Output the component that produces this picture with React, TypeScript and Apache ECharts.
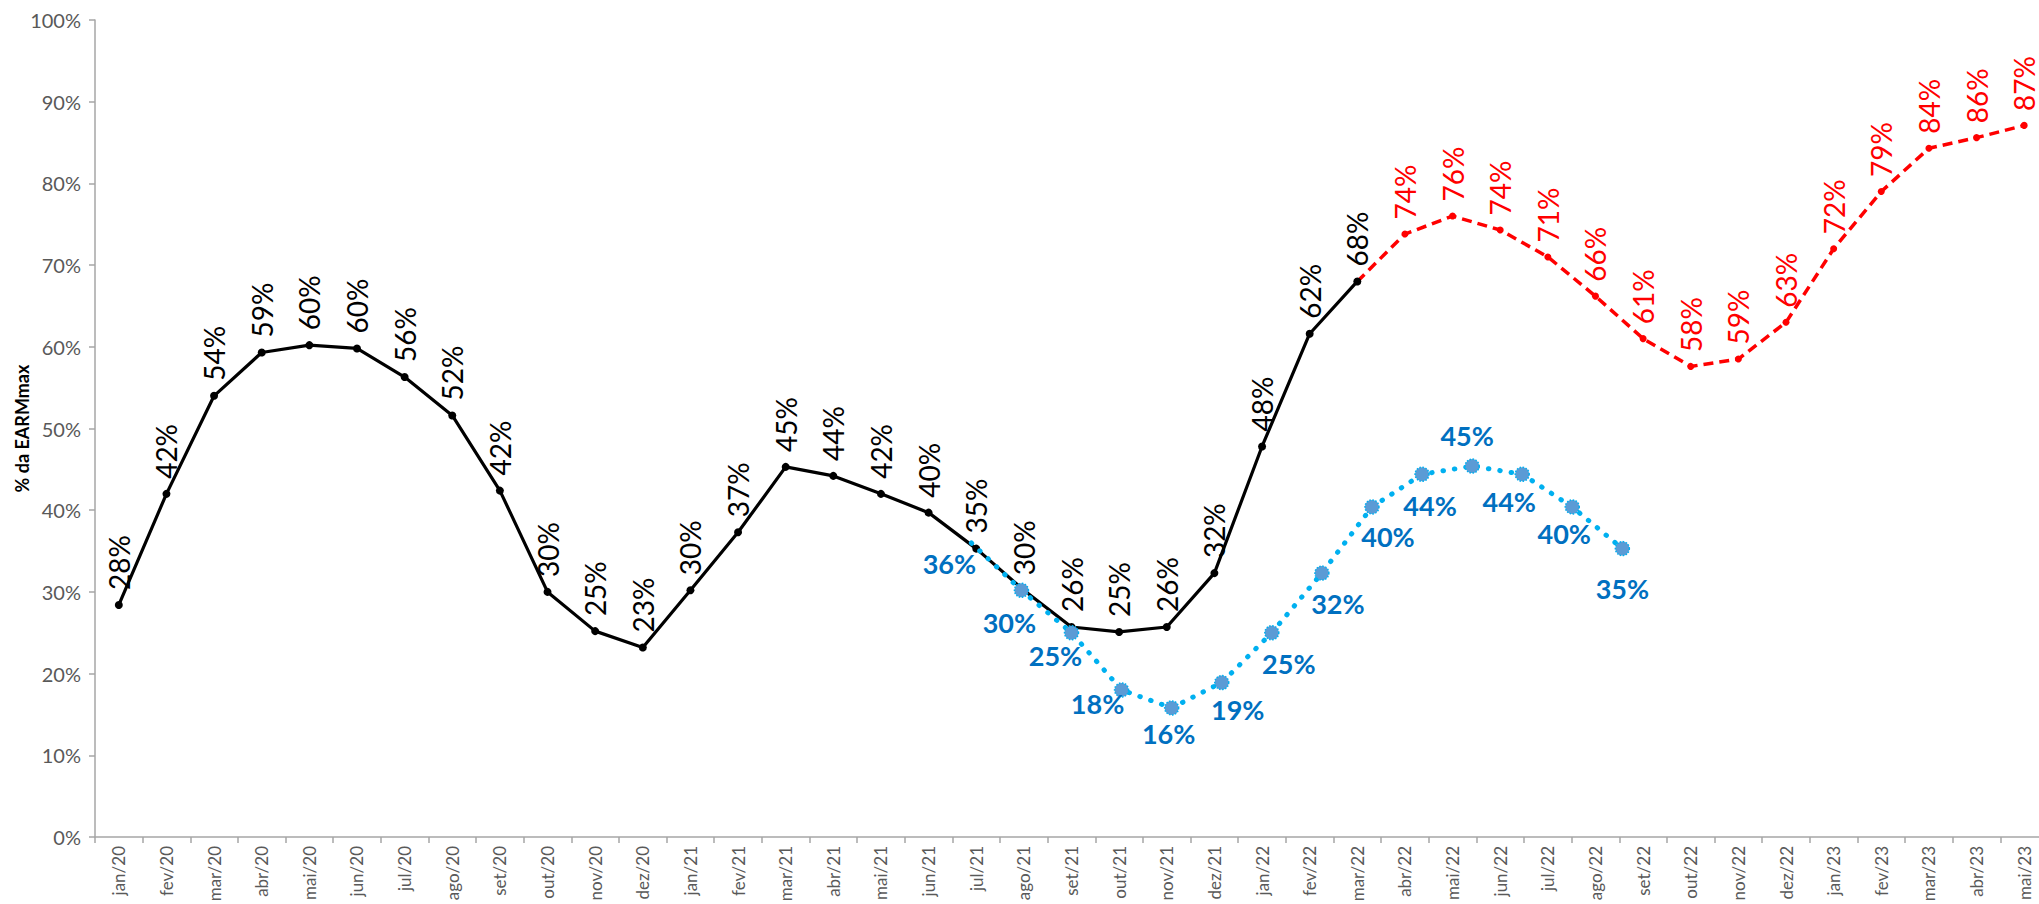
import React, { useEffect, useRef } from 'react';
import * as echarts from 'echarts';

const months = [
  'jan/20', 'fev/20', 'mar/20', 'abr/20', 'mai/20', 'jun/20', 'jul/20', 'ago/20', 'set/20', 'out/20', 'nov/20', 'dez/20',
  'jan/21', 'fev/21', 'mar/21', 'abr/21', 'mai/21', 'jun/21', 'jul/21', 'ago/21', 'set/21', 'out/21', 'nov/21', 'dez/21',
  'jan/22', 'fev/22', 'mar/22', 'abr/22', 'mai/22', 'jun/22', 'jul/22', 'ago/22', 'set/22', 'out/22', 'nov/22', 'dez/22',
  'jan/23', 'fev/23', 'mar/23', 'abr/23', 'mai/23',
];

// Verificado (black), jan/20 .. mar/22
const blackStart = 'jan/20';
const blackValues = [
  28.4, 42.0, 54.0, 59.3, 60.2, 59.8, 56.3, 51.6, 42.4, 30.0, 25.2, 23.2,
  30.2, 37.3, 45.3, 44.2, 42.0, 39.7, 35.3, 30.2, 25.7, 25.1, 25.7, 32.3,
  47.8, 61.6, 68.0,
];

// Projeção (red dashed), mar/22 .. mai/23
const redStart = 'mar/22';
const redValues = [68.0, 73.8, 76.0, 74.3, 71.0, 66.2, 61.0, 57.6, 58.5, 63.0, 72.0, 79.0, 84.3, 85.6, 87.1];

// Blue dotted series, on its own (hidden) category axis fev/20 .. abr/23
const blueAxisCats = months.slice(1, 40);
const blueStart = 'jul/21';
const blueValues = [36.0, 30.2, 25.0, 18.0, 15.8, 18.9, 25.0, 32.3, 40.4, 44.4, 45.4, 44.4, 40.4, 35.3];
const blueLabelOffsets = [
  [-22, 21], [-12, 32], [-16, 23], [-24, 14], [-3, 26], [16, 27], [17, 31],
  [16, 30], [16, 30], [8, 31], [-5, -31], [-13, 27], [-8, 27], [0, 40],
];

const FONT = 'Lato, "Noto Sans", sans-serif';

function placeOn(cats: string[], start: string, values: number[]) {
  const s = cats.indexOf(start);
  return cats.map((_, i) => (i >= s && i < s + values.length ? values[i - s] : null));
}

export default function App() {
  const ref = useRef<HTMLDivElement>(null);

  useEffect(() => {
    const chart = echarts.init(ref.current as HTMLDivElement, null, { renderer: 'svg' });
    const pct = (p: any) => Math.round(Number(Array.isArray(p.value) ? p.value[1] : p.value)) + '%';

    const blackData = placeOn(months, blackStart, blackValues);
    const redRaw = placeOn(months, redStart, redValues);
    const redFirst = months.indexOf(redStart);
    const redData = redRaw.map((v, i) =>
      i === redFirst ? { value: v, symbol: 'none', label: { show: false } } : v
    );
    const blueRaw = placeOn(blueAxisCats, blueStart, blueValues);
    const blueFirst = blueAxisCats.indexOf(blueStart);
    const blueData = blueRaw.map((v, i) => {
      if (v === null) return null;
      const k = i - blueFirst;
      const item: any = { value: v, label: { offset: blueLabelOffsets[k] } };
      if (k === 0) {
        item.symbolSize = 1;
        item.itemStyle = { color: 'rgba(0,0,0,0)', borderWidth: 0 };
      }
      return item;
    });

    const rotLabel = (color: string) => ({
      show: true,
      position: 'top',
      distance: 11,
      rotate: 90,
      align: 'left',
      verticalAlign: 'middle',
      color,
      fontSize: 28,
      lineHeight: 28,
      fontFamily: FONT,
      formatter: pct,
    });

    const option: any = {
      animation: false,
      backgroundColor: '#ffffff',
      grid: { left: 95, top: 20, width: 1953, bottom: 67, containLabel: false, outerBoundsMode: 'none' },
      xAxis: [
        {
          type: 'category',
          data: months,
          boundaryGap: true,
          axisLine: { show: true, lineStyle: { color: '#A6A6A6', width: 1.5 } },
          axisTick: { show: true, length: 6, lineStyle: { color: '#A6A6A6', width: 1.5 } },
          axisLabel: { interval: 0, rotate: 90, fontSize: 17, color: '#595959', fontFamily: FONT, margin: 9 },
          splitLine: { show: false },
        },
        {
          type: 'category',
          data: blueAxisCats,
          boundaryGap: true,
          show: false,
        },
      ],
      yAxis: {
        type: 'value',
        min: 0,
        max: 100,
        interval: 10,
        name: '% da EARMmax',
        nameLocation: 'middle',
        nameGap: 64,
        nameMoveOverlap: false,
        nameTextStyle: { fontWeight: 'bold', fontSize: 18, color: '#000', fontFamily: FONT },
        axisLine: { show: true, lineStyle: { color: '#A6A6A6', width: 1.5 } },
        axisTick: { show: true, length: 6, lineStyle: { color: '#A6A6A6', width: 1.5 } },
        axisLabel: { formatter: '{value}%', fontSize: 20, color: '#595959', fontFamily: FONT, margin: 14 },
        splitLine: { show: false },
      },
      series: [
        {
          name: 'Projeção',
          type: 'line',
          data: redData,
          xAxisIndex: 0,
          symbol: 'circle',
          symbolSize: 7,
          itemStyle: { color: '#FF0000' },
          lineStyle: { color: '#FF0000', width: 3.5, type: [10, 6] },
          label: rotLabel('#FF0000'),
          z: 2,
        },
        {
          name: 'Verificado',
          type: 'line',
          data: blackData,
          xAxisIndex: 0,
          symbol: 'circle',
          symbolSize: 8,
          itemStyle: { color: '#000000' },
          lineStyle: { color: '#000000', width: 3.2 },
          label: rotLabel('#000000'),
          z: 3,
        },
        {
          name: 'Azul',
          type: 'line',
          data: blueData,
          xAxisIndex: 1,
          symbol: 'circle',
          symbolSize: 14,
          itemStyle: { color: '#5B9BD5', borderColor: '#00B0F0', borderWidth: 1.5, borderType: 'dotted' },
          lineStyle: { color: '#00B0F0', width: 5, type: [0.5, 11], cap: 'round' },
          label: {
            show: true,
            position: 'inside',
            align: 'center',
            verticalAlign: 'middle',
            color: '#0070C0',
            fontWeight: 'bold',
            fontSize: 27,
            fontFamily: FONT,
            formatter: pct,
          },
          z: 4,
        },
      ],
    };

    chart.setOption(option);
    return () => chart.dispose();
  }, []);

  return (
    <div
      ref={ref}
      style={{ position: 'fixed', left: 0, top: 0, width: 2039, height: 904, background: '#ffffff' }}
    />
  );
}
